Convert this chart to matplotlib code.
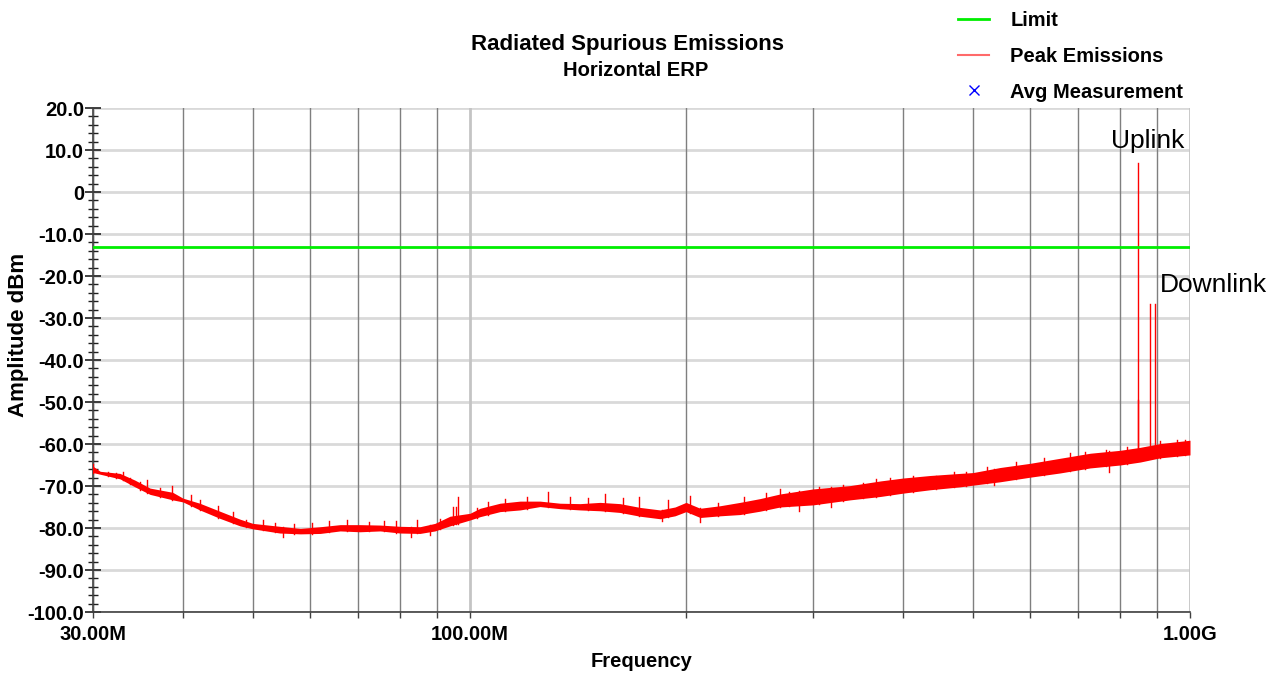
import matplotlib
matplotlib.use("Agg")
import matplotlib.pyplot as plt
from matplotlib.lines import Line2D
import numpy as np

plt.rcParams['font.family'] = ['Liberation Sans', 'DejaVu Sans']

# Noise-floor envelope of the peak trace (frequency in MHz, level in dBm)
floor_freq = [30.0, 30.7, 32.7, 34.3, 36.0, 38.7, 40.0, 42.2, 45.0, 48.0, 50.0,
              54.5, 58.2, 62.0, 66.1, 70.4, 75.1, 80.1, 85.3, 89.5, 93.9,
              100.1, 103.4, 110.2, 117.5, 125.2, 133.5, 142.3, 151.7, 161.7,
              172.4, 183.8, 192.8, 199.7, 208.9, 222.7, 237.3, 253.0, 269.7,
              299.7, 337.5, 371.5, 399.7, 435.6, 479.5, 499.9, 544.9, 600.0,
              660.0, 726.8, 800.0, 852.6, 908.8, 1000.0]
floor_low = [-66.8, -67.2, -68.3, -70.2, -72.0, -73.3, -73.8, -75.7, -77.7, -79.5, -80.2,
             -81.2, -81.4, -81.3, -80.7, -80.9, -80.7, -81.2, -81.3, -80.7, -79.5,
             -78.1, -77.3, -76.1, -75.7, -74.9, -75.4, -75.7, -75.9, -76.3,
             -77.2, -77.8, -77.1, -76.1, -77.5, -77.1, -76.8, -76.0, -75.0,
             -74.5, -73.3, -72.5, -71.7, -70.9, -70.2, -69.8, -69.0, -67.9,
             -66.9, -65.7, -65.0, -64.3, -63.3, -62.6]
floor_high = [-65.3, -66.5, -67.0, -68.6, -70.5, -71.5, -72.9, -74.1, -76.0, -77.9, -78.9,
              -79.6, -80.1, -79.7, -79.2, -79.2, -79.3, -79.6, -79.7, -78.9, -77.2,
              -76.5, -75.3, -74.1, -73.6, -73.6, -74.1, -74.2, -73.9, -74.2,
              -75.1, -75.7, -75.0, -73.9, -75.3, -74.7, -73.9, -73.0, -71.9,
              -70.7, -69.9, -68.8, -68.1, -67.5, -67.0, -66.8, -65.6, -64.6,
              -63.4, -62.2, -61.5, -60.8, -59.9, -59.1]

# Individual peaks rising above the noise floor (MHz, dBm)
peak_freq = [30.0, 31.5, 32.3, 33.0, 33.8, 34.9, 35.7, 37.2, 38.6, 41.1, 42.2,
             44.8, 47.0, 49.0, 51.6, 53.6, 57.0, 60.5, 63.8, 67.5, 72.4, 76.0,
             79.1, 84.4, 91.0, 94.9, 95.7, 96.3, 102.4, 105.9, 112.0, 120.0,
             128.6, 137.9, 146.0, 154.2, 163.0, 171.9, 188.7, 202.5, 221.5,
             240.0, 258.0, 269.3, 277.7, 305.0, 330.0, 352.0, 367.0, 383.0,
             412.0, 444.0, 470.0, 488.0, 522.0, 573.0, 627.0, 682.0, 714.0,
             765.0, 817.0, 909.0, 958.0, 985.0]
peak_level = [-64.8, -66.6, -67.0, -66.7, -68.1, -69.0, -68.6, -70.4, -70.0, -72.1, -73.3,
              -74.7, -76.1, -78.1, -78.1, -78.8, -79.0, -78.7, -78.3, -78.2, -78.5, -78.4,
              -78.3, -78.1, -77.8, -74.9, -75.0, -72.5, -75.3, -73.7, -73.0, -72.6,
              -71.5, -72.7, -72.9, -72.0, -72.8, -72.7, -73.3, -72.3, -74.0,
              -72.6, -71.7, -70.7, -71.5, -70.2, -69.8, -69.4, -68.4, -68.2,
              -67.6, -67.6, -66.6, -66.6, -65.4, -64.2, -63.3, -62.2, -61.8,
              -61.4, -60.6, -59.4, -59.0, -59.0]

# Dips below the noise floor (MHz, dBm)
dip_freq = [55.0, 83.0, 88.0, 184.8, 209.0, 287.0, 317.0, 535.0, 773.0]
dip_level = [-82.1, -82.1, -81.7, -78.3, -78.5, -75.9, -75.1, -69.8, -66.6]

# Carrier spikes (MHz, dBm)
carrier_freq = [846.5, 847.9, 880.0, 893.7]
carrier_level = [-49.5, 7.0, -26.7, -26.7]

limit_level = -13.0
freq_span = [30.0, 1000.0]

x_major = [30, 100, 1000]
x_major_labels = ['30.00M', '100.00M', '1.00G']
x_minor = [40, 50, 60, 70, 80, 90, 200, 300, 400, 500, 600, 700, 800, 900]
y_ticks = [20, 10, 0, -10, -20, -30, -40, -50, -60, -70, -80, -90, -100]
y_labels = ['20.0', '10.0', '0', '-10.0', '-20.0', '-30.0', '-40.0', '-50.0',
            '-60.0', '-70.0', '-80.0', '-90.0', '-100.0']

fig = plt.figure(figsize=(12.81, 6.75), dpi=100)
ax = fig.add_axes([93 / 1281, 1 - 612 / 675, 1097 / 1281, 504 / 675])
ax.set_xscale('log')
ax.set_xlim(*freq_span)
ax.set_ylim(-100, 20)

# grid
for y in y_ticks:
    ax.axhline(y, color='#d9d9d9', lw=2.0, zorder=0)
for x in x_minor:
    ax.axvline(x, color='#7f7f7f', lw=1.0, zorder=0)
for x in x_major:
    ax.axvline(x, color='#c4c4c4', lw=2.0, zorder=0)

red = '#ff0000'
ax.fill_between(floor_freq, floor_low, floor_high, color=red, lw=0, zorder=3)
log_f = np.log10(floor_freq)
for f, lvl in zip(peak_freq, peak_level):
    base = np.interp(np.log10(f), log_f, floor_low)
    ax.plot([f, f], [base, lvl], color=red, lw=1.0, zorder=3)
for f, lvl in zip(dip_freq, dip_level):
    top = np.interp(np.log10(f), log_f, floor_high)
    ax.plot([f, f], [top, lvl], color=red, lw=1.0, zorder=3)
for f, lvl in zip(carrier_freq, carrier_level):
    base = np.interp(np.log10(f), log_f, floor_high)
    ax.plot([f, f], [base, lvl], color=red, lw=1.0, zorder=3)

ax.plot(freq_span, [limit_level, limit_level], color='#00ee00', lw=2.0, zorder=4)

# axes styling
for side in ('top', 'right'):
    ax.spines[side].set_visible(False)
for side in ('left', 'bottom'):
    ax.spines[side].set_color('#404040')
    ax.spines[side].set_linewidth(1.2)

ax.set_xticks(x_major)
ax.set_xticklabels(x_major_labels)
ax.set_xticks(x_minor, minor=True)
ax.set_xticklabels([], minor=True)
ax.tick_params(axis='x', which='both', direction='out', length=4, width=1,
               color='#404040', pad=5)
ax.tick_params(axis='x', which='major', labelsize=14.5)
for t in ax.get_xticklabels():
    t.set_fontweight('bold')

ax.set_yticks(y_ticks)
ax.set_yticklabels(y_labels)
ax.set_yticks(np.arange(-100, 21, 2), minor=True)
ax.tick_params(axis='y', which='major', direction='inout', length=11, width=1.2,
               color='#202020', labelsize=14.5, pad=1)
ax.tick_params(axis='y', which='minor', direction='inout', length=7, width=1.0,
               color='#202020')
for t in ax.get_yticklabels():
    t.set_fontweight('bold')

ax.set_xlabel('Frequency', fontsize=14.5, fontweight='bold', labelpad=6)
ax.set_ylabel('Amplitude dBm', fontsize=16, fontweight='bold')
ax.yaxis.set_label_coords(-0.058, 0.55)

fig.text(0.49, 0.934, 'Radiated Spurious Emissions', ha='center', va='center',
         fontsize=16, fontweight='bold')
fig.text(0.496, 0.895, 'Horizontal ERP', ha='center', va='center',
         fontsize=14.5, fontweight='bold')

ax.text(777, 12.2, 'Uplink', fontsize=19, ha='left', va='center', clip_on=False)
ax.text(909, -22.1, 'Downlink', fontsize=19, ha='left', va='center', clip_on=False)

handles = [Line2D([], [], color='#00ee00', lw=2.0),
           Line2D([], [], color='#ff6a6a', lw=1.5),
           Line2D([], [], color='#0000ff', lw=0, marker='x', markersize=7)]
labels = ['Limit', 'Peak Emissions', 'Avg Measurement']
fig.legend(handles, labels, loc='upper left', bbox_to_anchor=(958 / 1281, 0.983),
           frameon=False, prop={'weight': 'bold', 'size': 14.5}, borderpad=0,
           borderaxespad=0, handlelength=1.55, handletextpad=1.05, labelspacing=0.82)

fig.savefig('out.png', dpi=100)
